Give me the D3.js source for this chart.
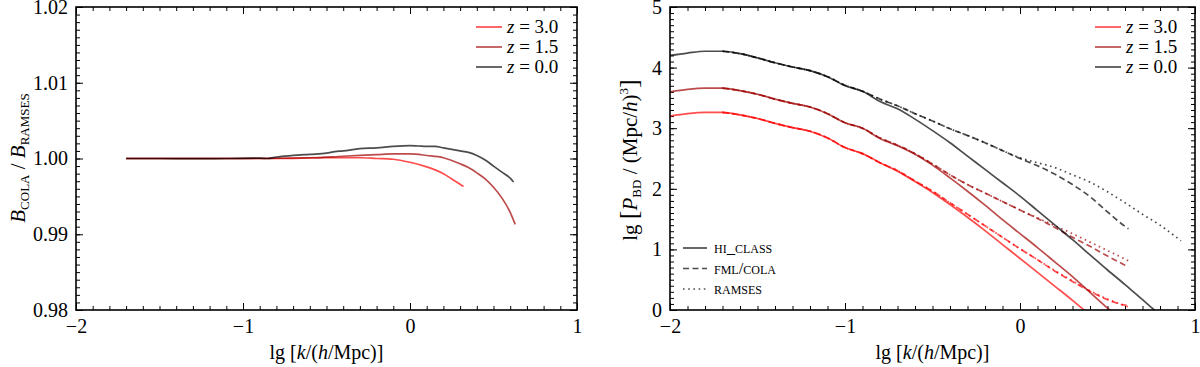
<!DOCTYPE html>
<html>
<head>
<meta charset="utf-8">
<script src="https://cdn.jsdelivr.net/npm/d3@7"></script>
<style>
  body { margin: 0; background: #fff; }
  svg { display: block; }
  text { font-family: "Liberation Serif", "DejaVu Serif", serif; fill: #000; }
</style>
</head>
<body>
<svg id="chart" width="1200" height="367"></svg>
<script>
// --- data: left panel, bispectrum ratio COLA / RAMSES ---
const redshiftLabels = ["3.0", "1.5", "0.0"];
const kRatioZ3 = [-1.7, -0.8, -0.5, -0.3, -0.2, -0.1, 0, 0.1, 0.15, 0.2, 0.25, 0.3, 0.32];
const ratioZ3  = [1.0, 1.0, 1.0001, 1.0001, 1.0, 0.9999, 0.9995, 0.9989, 0.9985, 0.998, 0.9973, 0.9966, 0.9963];
const kRatioZ15 = [-1.7, -1.0, -0.6, -0.4, -0.2, -0.1, 0, 0.1, 0.2, 0.3, 0.35, 0.4, 0.45, 0.5, 0.55, 0.6, 0.63];
const ratioZ15  = [1.0, 1.0, 1.0001, 1.0003, 1.0005, 1.0006, 1.0006, 1.0004, 1.0001, 0.9993, 0.9988, 0.9981, 0.9973, 0.9962, 0.9948, 0.9929, 0.9913];
const kRatioZ0 = [-1.7, -1.5, -1.3, -1.1, -0.9, -0.85, -0.8, -0.7, -0.6, -0.5, -0.45, -0.4, -0.3, -0.2, -0.1, 0, 0.05, 0.1, 0.15, 0.2, 0.25, 0.3, 0.35, 0.4, 0.45, 0.5, 0.55, 0.6, 0.62];
const ratioZ0  = [1.0, 1.0, 0.99998, 1.0, 1.00005, 1.0, 1.0002, 1.0004, 1.00055, 1.0007, 1.0009, 1.001, 1.0013, 1.0014, 1.0016, 1.0017, 1.00165, 1.0016, 1.0016, 1.0014, 1.0012, 1.001, 1.0008, 1.0004, 0.9998, 0.999, 0.9982, 0.9974, 0.9969];

// --- data: right panel, lg P_BD ---
const kTheory = [-2.0, -1.9, -1.8, -1.7, -1.6, -1.5, -1.4, -1.3, -1.2, -1.1, -1.0, -0.9, -0.8, -0.7, -0.6, -0.5, -0.4, -0.3, -0.2, -0.1, 0.0, 0.1, 0.2, 0.3, 0.4, 0.5, 0.6, 0.7, 0.8];
const hiClassZ3  = [3.20, 3.24, 3.26, 3.26, 3.22, 3.16, 3.08, 3.01, 2.95, 2.84, 2.68, 2.58, 2.43, 2.29, 2.12, 1.94, 1.74, 1.53, 1.31, 1.08, 0.85, 0.62, 0.39, 0.16, -0.08, -0.3, -0.5, -0.7, -0.9];
const hiClassZ15 = [3.60, 3.64, 3.66, 3.66, 3.62, 3.56, 3.48, 3.41, 3.35, 3.24, 3.09, 3.00, 2.83, 2.71, 2.57, 2.39, 2.18, 1.96, 1.73, 1.49, 1.26, 1.03, 0.79, 0.55, 0.29, 0.03, -0.23, -0.5, -0.7];
const hiClassZ0  = [4.20, 4.24, 4.27, 4.27, 4.23, 4.16, 4.08, 4.01, 3.95, 3.85, 3.70, 3.61, 3.44, 3.32, 3.15, 2.96, 2.76, 2.54, 2.32, 2.10, 1.88, 1.64, 1.40, 1.16, 0.91, 0.66, 0.42, 0.17, -0.08];

const kSim = [-1.7, -1.6, -1.5, -1.4, -1.3, -1.2, -1.1, -1.0, -0.9, -0.8, -0.7, -0.6, -0.5, -0.4, -0.3, -0.2, -0.1, 0.0, 0.1, 0.2, 0.3, 0.4, 0.5, 0.6, 0.62];
const colaZ3  = [3.26, 3.22, 3.16, 3.08, 3.01, 2.95, 2.84, 2.68, 2.58, 2.43, 2.30, 2.13, 1.96, 1.77, 1.58, 1.39, 1.20, 1.01, 0.83, 0.64, 0.47, 0.31, 0.17, 0.08, 0.07];
const colaZ15 = [3.66, 3.62, 3.56, 3.48, 3.41, 3.35, 3.24, 3.09, 3.00, 2.84, 2.72, 2.58, 2.41, 2.23, 2.07, 1.93, 1.79, 1.65, 1.51, 1.36, 1.20, 1.05, 0.89, 0.74, 0.71];
const colaZ0  = [4.27, 4.23, 4.16, 4.08, 4.01, 3.95, 3.85, 3.71, 3.61, 3.48, 3.37, 3.24, 3.12, 2.99, 2.88, 2.76, 2.63, 2.50, 2.38, 2.24, 2.07, 1.87, 1.62, 1.38, 1.34];
const ramsesZ3  = [3.26, 3.22, 3.16, 3.08, 3.01, 2.95, 2.84, 2.68, 2.58, 2.43, 2.30, 2.13, 1.96, 1.77, 1.58, 1.39, 1.20, 1.01, 0.83, 0.65, 0.48, 0.32, 0.18, 0.07, 0.05];
const ramsesZ15 = [3.66, 3.62, 3.56, 3.48, 3.41, 3.35, 3.24, 3.09, 3.00, 2.84, 2.72, 2.58, 2.41, 2.23, 2.07, 1.93, 1.79, 1.65, 1.52, 1.39, 1.26, 1.12, 0.98, 0.84, 0.81];
const kRamsesZ0 = [-1.7, -1.6, -1.5, -1.4, -1.3, -1.2, -1.1, -1.0, -0.9, -0.8, -0.7, -0.6, -0.5, -0.4, -0.3, -0.2, -0.1, 0.0, 0.1, 0.2, 0.3, 0.4, 0.5, 0.6, 0.7, 0.8, 0.92];
const ramsesZ0  = [4.27, 4.23, 4.16, 4.08, 4.01, 3.95, 3.85, 3.71, 3.61, 3.48, 3.37, 3.24, 3.12, 2.99, 2.88, 2.76, 2.63, 2.51, 2.43, 2.35, 2.23, 2.11, 1.95, 1.77, 1.58, 1.40, 1.14];

// ticks
const xMajor = [-2, -1, 0, 1];
const yMajorLeft = [0.98, 0.99, 1.00, 1.01, 1.02];
const yMajorRight = [0, 1, 2, 3, 4, 5];
const codeLabels = ["hi_class", "fml/cola", "ramses"];

const colors = ["#ff0000", "#a00000", "#000000"];
const dashes = [null, "6,3.5", "1.6,3.6"];

const svg = d3.select("#chart");
const serif = '"Liberation Serif", "DejaVu Serif", serif';

function makePanel(id, box, yDomain, yMajor, yMinorStep, yFmt) {
  const x = d3.scaleLinear().domain([-2, 1]).range([box.x0, box.x1]);
  const y = d3.scaleLinear().domain(yDomain).range([box.y1, box.y0]);
  const xMinor = d3.range(-2, 1.0001, 0.1);
  const yMinor = d3.range(yDomain[0], yDomain[1] + yMinorStep / 2, yMinorStep);

  svg.append("clipPath").attr("id", id)
    .append("rect").attr("x", box.x0).attr("y", box.y0)
    .attr("width", box.x1 - box.x0).attr("height", box.y1 - box.y0);

  const axes = svg.append("g");
  const add = (axis, tr) => {
    const g = axes.append("g").attr("transform", tr).call(axis);
    g.attr("font-family", serif).attr("font-size", 20);
    g.select(".domain").remove();
    g.selectAll(".tick line").attr("stroke", "#000").attr("stroke-width", 1);
    return g;
  };
  add(d3.axisBottom(x).tickValues(xMajor).tickSize(-7).tickPadding(9).tickFormat(d3.format("d")), `translate(0,${box.y1})`);
  add(d3.axisBottom(x).tickValues(xMinor).tickSize(-4).tickFormat(""), `translate(0,${box.y1})`);
  add(d3.axisTop(x).tickValues(xMajor).tickSize(-7).tickFormat(""), `translate(0,${box.y0})`);
  add(d3.axisTop(x).tickValues(xMinor).tickSize(-4).tickFormat(""), `translate(0,${box.y0})`);
  add(d3.axisLeft(y).tickValues(yMajor).tickSize(-7).tickPadding(8).tickFormat(yFmt), `translate(${box.x0},0)`);
  add(d3.axisLeft(y).tickValues(yMinor).tickSize(-4).tickFormat(""), `translate(${box.x0},0)`);
  add(d3.axisRight(y).tickValues(yMajor).tickSize(-7).tickFormat(""), `translate(${box.x1},0)`);
  add(d3.axisRight(y).tickValues(yMinor).tickSize(-4).tickFormat(""), `translate(${box.x1},0)`);

  const plot = svg.append("g").attr("clip-path", `url(#${id})`);

  svg.append("rect").attr("x", box.x0).attr("y", box.y0)
    .attr("width", box.x1 - box.x0).attr("height", box.y1 - box.y0)
    .attr("fill", "none").attr("stroke", "#000").attr("stroke-width", 1.6);

  // x label: lg [k/(h/Mpc)]
  const xl = svg.append("text").attr("x", (box.x0 + box.x1) / 2).attr("y", 359)
    .attr("text-anchor", "middle").attr("font-size", 20);
  xl.append("tspan").text("lg [");
  xl.append("tspan").attr("font-style", "italic").text("k");
  xl.append("tspan").text("/(");
  xl.append("tspan").attr("font-style", "italic").text("h");
  xl.append("tspan").text("/Mpc)]");

  return { x, y, plot, box };
}

function drawLine(p, ks, vs, color, dash, width) {
  const pts = ks.map((k, i) => [k, vs[i]]);
  p.plot.append("path").datum(pts)
    .attr("fill", "none")
    .attr("stroke", color)
    .attr("stroke-opacity", 0.7)
    .attr("stroke-width", width)
    .attr("stroke-dasharray", dash)
    .attr("d", d3.line().x(d => p.x(d[0])).y(d => p.y(d[1])).curve(d3.curveMonotoneX));
}

function redshiftLegend(p, x0, y0) {
  redshiftLabels.forEach((lab, i) => {
    const yy = y0 + i * 20;
    svg.append("line").attr("x1", x0).attr("x2", x0 + 26).attr("y1", yy).attr("y2", yy)
      .attr("stroke", colors[i]).attr("stroke-opacity", 0.7).attr("stroke-width", 1.7);
    const t = svg.append("text").attr("x", x0 + 31).attr("y", yy + 6).attr("font-size", 19);
    t.append("tspan").attr("font-style", "italic").text("z");
    t.append("tspan").text(" = " + lab);
  });
}

// ---------- left panel ----------
const left = makePanel("clipL", { x0: 76, x1: 577, y0: 7, y1: 310 }, [0.98, 1.02], yMajorLeft, 0.001, d3.format(".2f"));
drawLine(left, kRatioZ3, ratioZ3, colors[0], null, 1.7);
drawLine(left, kRatioZ15, ratioZ15, colors[1], null, 1.7);
drawLine(left, kRatioZ0, ratioZ0, colors[2], null, 1.7);
redshiftLegend(left, 476, 27);

const yl = svg.append("text").attr("transform", "translate(25,158) rotate(-90)")
  .attr("text-anchor", "middle").attr("font-size", 21);
yl.append("tspan").attr("font-style", "italic").text("B");
yl.append("tspan").attr("font-size", 13).attr("dy", 4).text("COLA");
yl.append("tspan").attr("dy", -4).text(" / ");
yl.append("tspan").attr("font-style", "italic").text("B");
yl.append("tspan").attr("font-size", 13).attr("dy", 4).text("RAMSES");

// ---------- right panel ----------
const right = makePanel("clipR", { x0: 670, x1: 1195, y0: 7, y1: 310 }, [0, 5], yMajorRight, 0.1, d3.format("d"));
const theory = [hiClassZ3, hiClassZ15, hiClassZ0];
const cola = [colaZ3, colaZ15, colaZ0];
const ramses = [ramsesZ3, ramsesZ15];
[0, 1, 2].forEach(i => {
  drawLine(right, kTheory, theory[i], colors[i], null, 1.7);
  drawLine(right, kSim, cola[i], colors[i], dashes[1], 1.7);
  if (i < 2) drawLine(right, kSim, ramses[i], colors[i], dashes[2], 1.7);
  else drawLine(right, kRamsesZ0, ramsesZ0, colors[i], dashes[2], 1.7);
});
redshiftLegend(right, 1095, 27);

codeLabels.forEach((lab, i) => {
  const yy = 248 + i * 20.5;
  svg.append("line").attr("x1", 683).attr("x2", 707).attr("y1", yy).attr("y2", yy)
    .attr("stroke", "#000").attr("stroke-opacity", 0.7).attr("stroke-width", 1.7)
    .attr("stroke-dasharray", dashes[i]);
  svg.append("text").attr("x", 714).attr("y", yy + 5).attr("font-size", 16.5)
    .style("font-variant", "small-caps").text(lab);
});

const yr = svg.append("text").attr("transform", "translate(637,160) rotate(-90)")
  .attr("text-anchor", "middle").attr("font-size", 21);
yr.append("tspan").text("lg ");
yr.append("tspan").attr("font-size", 26).text("[");
yr.append("tspan").attr("font-style", "italic").text("P");
yr.append("tspan").attr("font-size", 13).attr("dy", 4).text("BD");
yr.append("tspan").attr("dy", -4).text(" / (Mpc/");
yr.append("tspan").attr("font-style", "italic").text("h");
yr.append("tspan").text(")");
yr.append("tspan").attr("font-size", 13).attr("dy", -9).text("3");
yr.append("tspan").attr("dy", 9).attr("font-size", 26).text("]");
</script>
</body>
</html>
